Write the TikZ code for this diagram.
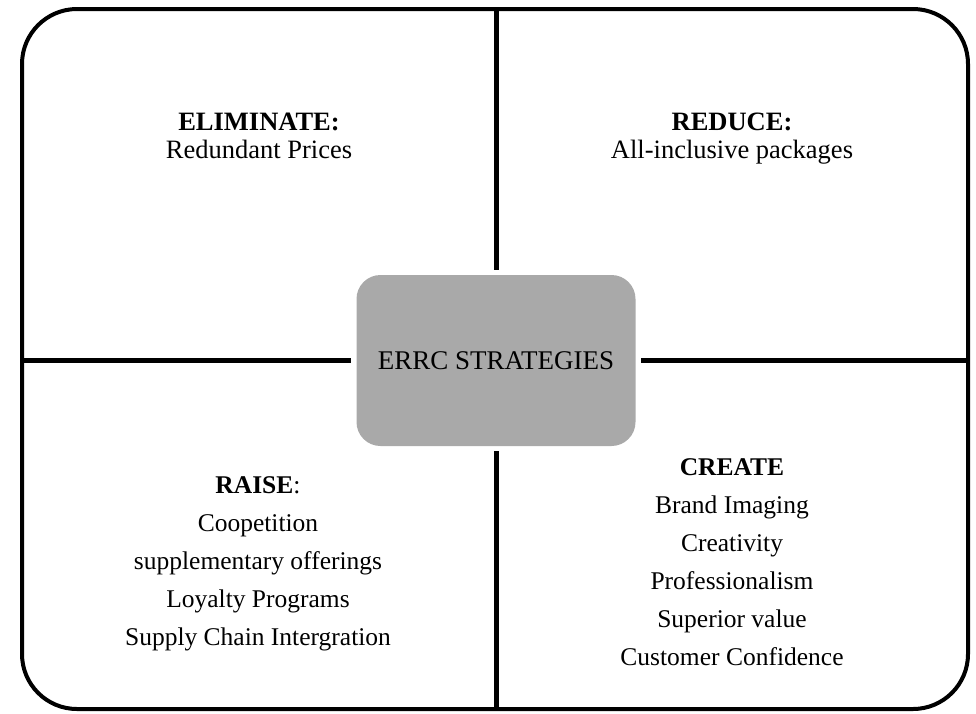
\documentclass[tikz,border=0pt]{standalone}
\usepackage{fontspec}
\setmainfont{Liberation Serif}
\usetikzlibrary{positioning}
\definecolor{CoreGray}{HTML}{A9A9A9}
\tikzset{
  outerframe/.style={line width=4pt, rounded corners=55pt},
  divider/.style={line width=5pt, shorten >=5pt},
  corebox/.style={fill=CoreGray, rounded corners=24pt, minimum width=279pt,
    minimum height=171pt, inner sep=0pt, font=\fontsize{27}{30}\selectfont},
  quadtop/.style={align=center, inner sep=0pt, anchor=north,
    font=\fontsize{26.5}{27.5}\selectfont},
  quadbot/.style={align=center, inner sep=0pt, anchor=north,
    font=\fontsize{25.5}{38}\selectfont},
}
\begin{document}
\begin{tikzpicture}[x=1pt, y=-1pt]
    \useasboundingbox (0,0) rectangle (976,713);
    \draw[outerframe] (22,9) rectangle (968,709);
    \node[corebox] (core) at (496,360.5) {ERRC STRATEGIES};
    \coordinate (ftop) at (496,9);
    \coordinate (fbot) at (496,709);
    \coordinate (fleft) at (22,360.5);
    \coordinate (fright) at (968,360.5);
    \draw[divider] (ftop) -- (core.north);
    \draw[divider] (fbot) -- (core.south);
    \draw[divider] (fleft) -- (core.west);
    \draw[divider] (fright) -- (core.east);
    \node[quadtop] (elim) at (259,113) {\textbf{ELIMINATE:}\\Redundant Prices};
    \node[quadtop] (reduce) at (732,113) {\textbf{REDUCE:}\\All-inclusive packages};
    \node[quadbot] (raise) at (258,476) {\textbf{RAISE}:\\Coopetition\\supplementary offerings\\Loyalty Programs\\Supply Chain Intergration};
    \node[quadbot] (create) at (732,458) {\textbf{CREATE}\\Brand Imaging\\Creativity\\Professionalism\\Superior value\\Customer Confidence};
  \end{tikzpicture}
\end{document}
